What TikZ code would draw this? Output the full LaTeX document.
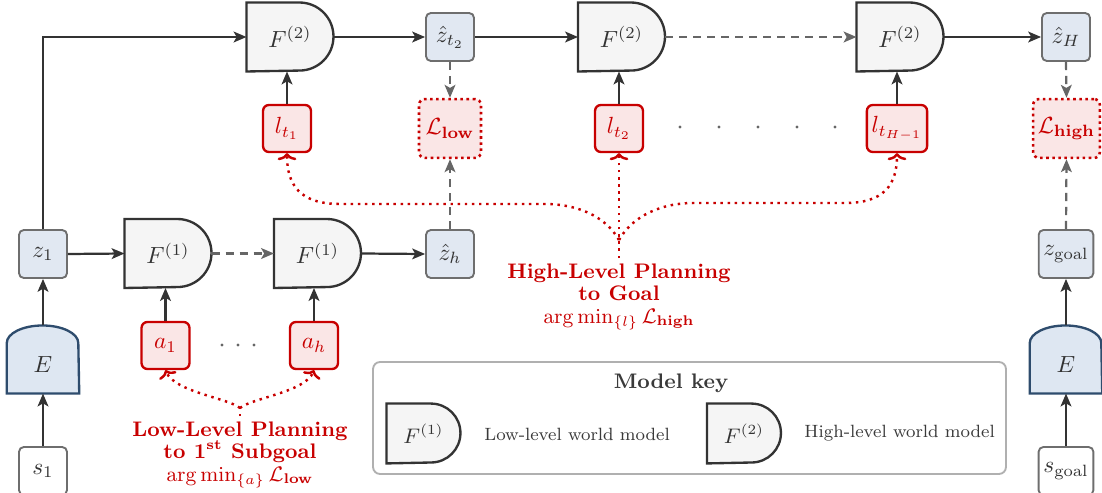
\documentclass[tikz,border=0pt]{standalone}
\usepackage{amsmath}
\usetikzlibrary{arrows.meta,backgrounds,calc}
\definecolor{ink}{HTML}{333333}
\definecolor{fgray}{HTML}{F5F5F5}
\definecolor{zfill}{HTML}{E1E8F2}
\definecolor{bgray}{HTML}{6E6E6E}
\definecolor{dashg}{HTML}{666666}
\definecolor{redc}{HTML}{C80000}
\definecolor{rfill}{HTML}{FAE6E6}
\definecolor{ebord}{HTML}{2E4C6D}
\definecolor{efill}{HTML}{DEE7F2}
\definecolor{keyb}{HTML}{B0B0B0}
\definecolor{keyt}{HTML}{3A3A3A}
\newcommand\drawD[2]{\draw[fline] (#1.north west) -- ([xshift=-#2]#1.north east) arc[start angle=90,end angle=-90,radius=#2] -- (#1.south west) -- cycle;}
\newcommand\drawE[1]{\draw[eline] (#1.south west) -- ([yshift=-7.5pt]#1.north west) arc[start angle=180,end angle=0,x radius=15.3pt,y radius=7.5pt] -- (#1.south east) -- cycle;}
\begin{document}
\begin{tikzpicture}[x=0.4277pt,y=-0.4277pt,
 every node/.style={text=ink},
 zbox/.style={draw=bgray, fill=zfill, line width=0.8pt, rounded corners=2pt, minimum width=20.5pt, minimum height=20.5pt, inner sep=2pt},
 sbox/.style={zbox, fill=white},
 lbox/.style={draw=redc, fill=rfill, line width=1pt, rounded corners=2.5pt, minimum width=20.5pt, minimum height=20.1pt, inner sep=2pt, text=redc},
 Lbox/.style={lbox, line width=1.1pt, dash pattern=on 1.1pt off 1.5pt, minimum width=26.5pt, minimum height=25.2pt},
 fnode/.style={minimum width=36.8pt, minimum height=29.1pt, inner sep=0pt},
 knode/.style={minimum width=31.2pt, minimum height=25.2pt, inner sep=0pt, font=\small},
 enode/.style={minimum width=30.6pt, minimum height=28.7pt, inner sep=0pt, text height=11pt, text depth=0pt},
 fline/.style={draw=ink, fill=fgray, line width=1pt},
 eline/.style={draw=ebord, fill=efill, line width=1pt},
 sarrow/.style={draw=ink, line width=0.95pt, -{Stealth[length=5.5pt,width=4.6pt,inset=1.3pt]}},
 darrow/.style={draw=dashg, line width=0.95pt, dash pattern=on 3.5pt off 2.5pt, -{Stealth[length=5.5pt,width=4.6pt,inset=1.3pt]}},
 rdot/.style={draw=redc, line width=1.05pt, dash pattern=on 1.05pt off 2pt},
 rarrow/.style={rdot, -{To[length=3pt,width=8pt]}},
 dotn/.style={circle, fill=dashg, inner sep=0pt, minimum size=1.4pt},
 labtxt/.style={align=center, text=redc, font=\small, inner sep=0pt},
 keylab/.style={anchor=west, inner sep=0pt, font=\fontsize{7.6}{9}\selectfont, text=keyt},
]
\useasboundingbox (0,0) rectangle (1102,493);

% top row
\node[fnode] (f2a) at (290,37) {$F^{(2)}$};
\node[zbox] (zt2) at (450,37) {$\hat{z}_{t_2}$};
\node[fnode] (f2b) at (621.5,37) {$F^{(2)}$};
\node[fnode] (f2c) at (900,37) {$F^{(2)}$};
\node[zbox] (zH) at (1066,37) {$\hat{z}_{H}$};

% second row
\node[lbox] (lt1) at (287,128.5) {$l_{t_1}$};
\node[Lbox] (Llow) at (450,128.5) {$\mathcal{L}_{\mathbf{low}}$};
\node[lbox] (lt2) at (619,128.5) {$l_{t_2}$};
\node[lbox, minimum width=24.8pt] (ltH) at (897,128.5) {$l_{t_{H-1}}$};
\node[Lbox, minimum width=27pt] (Lhigh) at (1066.5,128.5) {$\mathcal{L}_{\mathbf{high}}$};
\foreach \x [count=\i] in {680,719,758,797,835} \node[dotn] (hd\i) at (\x,127) {};

% third row
\node[zbox] (z1) at (43,254) {$z_1$};
\node[fnode] (f1a) at (168,253.5) {$F^{(1)}$};
\node[fnode] (f1b) at (317.5,253.5) {$F^{(1)}$};
\node[zbox] (zh) at (450,254) {$\hat{z}_h$};
\node[zbox] (zg) at (1066,254) {$z_{\mathrm{goal}}$};

% fourth row
\node[lbox] (a1) at (165.5,345.5) {$a_1$};
\node[lbox] (ah) at (314,345.5) {$a_h$};
\foreach \x [count=\i] in {222,238,254} \node[dotn] (ld\i) at (\x,345) {};
\node[enode] (E1) at (43,359.5) {$E$};
\node[enode] (E2) at (1066,359.5) {$E$};
\node[sbox] (s1) at (43,471) {$s_1$};
\node[sbox] (sg) at (1066,471) {$s_{\mathrm{goal}}$};

% labels
\node[labtxt] (lowlab) at (240,455) {\textbf{Low-Level Planning}\\[-1.5pt] \textbf{to 1\textsuperscript{st} Subgoal}\\[-1.5pt] $\arg\min_{\{a\}}\mathcal{L}_{\mathbf{low}}$};
\node[labtxt] (highlab) at (619,297) {\textbf{High-Level Planning}\\[-1.5pt] \textbf{to Goal}\\[-1.5pt] $\arg\min_{\{l\}}\mathcal{L}_{\mathbf{high}}$};

% key
\node[draw=keyb, line width=0.8pt, rounded corners=3pt, minimum width=270.7pt, minimum height=47.9pt] (keybox) at (689.5,418) {};
\node[font=\small\bfseries, text=keyt] (keytitle) at (671,383) {Model key};
\node[knode] (kf1) at (423.5,433.5) {$F^{(1)}$};
\node[keylab] (klow) at (484,434) {Low-level world model};
\node[knode] (kf2) at (744,433.5) {$F^{(2)}$};
\node[keylab] (khigh) at (804,433) {High-level world model};

% shapes on background
\begin{scope}[on background layer]
\drawD{f2a}{14.55pt}
\drawD{f2b}{14.55pt}
\drawD{f2c}{14.55pt}
\drawD{f1a}{14.55pt}
\drawD{f1b}{14.55pt}
\drawD{kf1}{12.6pt}
\drawD{kf2}{12.6pt}
\drawE{E1}
\drawE{E2}
\end{scope}

% solid arrows
\draw[sarrow] (z1.north) |- (f2a.west);
\draw[sarrow] (f2a.east) -- (zt2.west);
\draw[sarrow] (zt2.east) -- (f2b.west);
\draw[darrow] (f2b.east) -- (f2c.west);
\draw[sarrow] (f2c.east) -- (zH.west);
\draw[sarrow] (lt1.north) -- (lt1.north |- f2a.south);
\draw[sarrow] (lt2.north) -- (lt2.north |- f2b.south);
\draw[sarrow] (ltH.north) -- (ltH.north |- f2c.south);
\draw[darrow] (zt2.south) -- (Llow.north);
\draw[darrow] (zH.south) -- (Lhigh.north);
\draw[darrow] (zh.north) -- (Llow.south);
\draw[darrow] (zg.north) -- (Lhigh.south);
\draw[sarrow] (z1.east) -- (f1a.west);
\draw[darrow] (f1a.east) -- (f1b.west);
\draw[sarrow] (f1b.east) -- (zh.west);
\draw[sarrow] (a1.north) -- (a1.north |- f1a.south);
\draw[sarrow] (ah.north) -- (ah.north |- f1b.south);
\draw[sarrow] (s1.north) -- (E1.south);
\draw[sarrow] (E1.north) -- (z1.south);
\draw[sarrow] (sg.north) -- (E2.south);
\draw[sarrow] (E2.north) -- (zg.south);

% red dotted planning connectors
\coordinate (jl) at (240,408);
\coordinate (jls) at (240,416);
\coordinate (jh) at (619,240);
\coordinate (jhs) at (619,258);
\draw[rdot] (jls) -- (jl);
\draw[rarrow] (jl) .. controls (228,398) and (175,392) .. (a1.south);
\draw[rarrow] (jl) .. controls (252,398) and (305,392) .. (ah.south);
\draw[rarrow] (jhs) -- (lt2.south);
\draw[rarrow] (jh) .. controls (605,215) and (575,204) .. (545,204) -- (340,204) .. controls (300,204) and (287,185) .. (lt1.south);
\draw[rarrow] (jh) .. controls (633,215) and (663,203) .. (693,203) -- (845,203) .. controls (884,203) and (897,185) .. (ltH.south);
\end{tikzpicture}
\end{document}
